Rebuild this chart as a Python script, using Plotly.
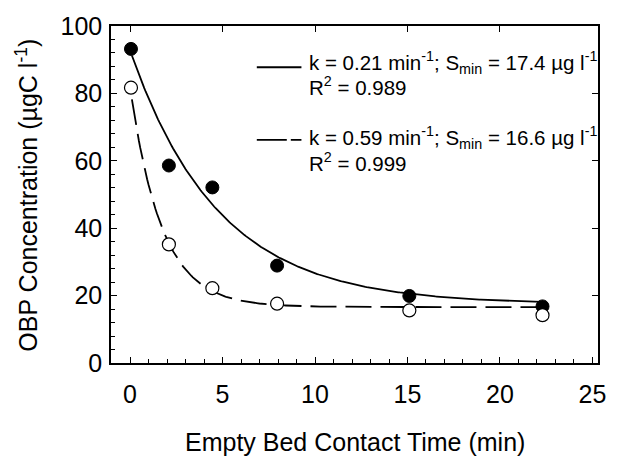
import numpy as np
import plotly.graph_objects as go

# ---- data ----
ebct_filled = [0.05, 2.1, 4.45, 7.95, 15.1, 22.3]
obp_filled = [93.2, 58.6, 52.1, 28.9, 19.9, 16.8]
ebct_open = [0.05, 2.1, 4.45, 7.95, 15.1, 22.3]
obp_open = [81.7, 35.2, 22.2, 17.6, 15.6, 14.2]

# fitted first-order decay parameters (from legend)
k_solid, smin_solid, s0_solid = 0.21, 17.4, 92.8
k_dash, smin_dash, s0_dash = 0.59, 16.6, 82.0
r2_solid, r2_dash = 0.989, 0.999
t_end_solid, t_end_dash = 22.3, 22.5

x_ticks = [0, 5, 10, 15, 20, 25]
y_ticks = [0, 20, 40, 60, 80, 100]

FONT = "Liberation Sans, Arial, sans-serif"

# plot-area geometry in pixels (for placing legend-like annotations)
L, R, T, B = 111, 602, 20, 363
PW, PH = R - L, B - T


def px(x):
    return (x - L) / PW


def py(y):
    return (B - y) / PH


t1 = np.linspace(0.1, t_end_solid, 300)
c1 = smin_solid + (s0_solid - smin_solid) * np.exp(-k_solid * t1)
t2 = np.linspace(0.1, t_end_dash, 300)
c2 = smin_dash + (s0_dash - smin_dash) * np.exp(-k_dash * t2)

fig = go.Figure()
fig.add_trace(go.Scatter(x=t1, y=c1, mode="lines",
                         line=dict(color="black", width=1.8), showlegend=False))
fig.add_trace(go.Scatter(x=t2, y=c2, mode="lines",
                         line=dict(color="black", width=1.8, dash="26px,9px"),
                         showlegend=False))
fig.add_trace(go.Scatter(
    x=ebct_filled, y=obp_filled, mode="markers",
    marker=dict(color="black", size=13, line=dict(color="black", width=1)),
    showlegend=False))
fig.add_trace(go.Scatter(
    x=ebct_open, y=obp_open, mode="markers",
    marker=dict(color="white", size=13, line=dict(color="black", width=1.2)),
    showlegend=False))
# invisible trace to carry top/right tick axes
fig.add_trace(go.Scatter(x=[None], y=[None], xaxis="x2", yaxis="y2", showlegend=False))

axis_common = dict(showgrid=False, zeroline=False, linecolor="black", linewidth=1.5,
                   ticks="inside", tickcolor="black", tickwidth=1.2)

fig.update_layout(
    width=618, height=457,
    margin=dict(l=L, r=618 - R, t=T, b=457 - B),
    plot_bgcolor="white", paper_bgcolor="white",
    font=dict(family=FONT, color="black", size=24),
    showlegend=False,
    xaxis=dict(range=[-1.03, 25.3], tickvals=x_ticks, ticklen=6, mirror=True,
               showline=True, tickfont=dict(size=25), ticklabelstandoff=8,
               minor=dict(dtick=1, tick0=0, ticks="inside", ticklen=4,
                          tickcolor="black", tickwidth=1),
               **axis_common),
    yaxis=dict(range=[0, 100], tickvals=y_ticks, ticklen=6, mirror=True,
               showline=True, tickfont=dict(size=25), ticklabelstandoff=2,
               minor=dict(dtick=4, tick0=0, ticks="inside", ticklen=4,
                          tickcolor="black", tickwidth=1),
               **axis_common),
    xaxis2=dict(range=[-1.03, 25.3], overlaying="x", side="top", tickvals=x_ticks[:-1],
                ticklen=6, showticklabels=False, showline=False, showgrid=False,
                zeroline=False, ticks="inside", tickcolor="black", tickwidth=1.2),
    yaxis2=dict(range=[0, 100], overlaying="y", side="right", tickvals=y_ticks[1:-1],
                ticklen=6, showticklabels=False, showline=False, showgrid=False,
                zeroline=False, ticks="inside", tickcolor="black", tickwidth=1.2),
)

# legend keys
fig.add_shape(type="line", xref="paper", yref="paper",
              x0=px(258), x1=px(303), y0=py(62), y1=py(62),
              line=dict(color="black", width=1.8))
fig.add_shape(type="line", xref="paper", yref="paper",
              x0=px(258), x1=px(303), y0=py(136), y1=py(136),
              line=dict(color="black", width=1.8, dash="30px,4px"))

LEG_SIZE = 20.5
legend_rows = [
    (f"k = {k_solid} min<sup>-1</sup>; S<sub>min</sub> = {smin_solid} µg l<sup>-1</sup>", 57),
    (f"R<sup>2</sup> = {r2_solid}", 81),
    (f"k = {k_dash} min<sup>-1</sup>; S<sub>min</sub> = {smin_dash} µg l<sup>-1</sup>", 133),
    (f"R<sup>2</sup> = {r2_dash}", 158),
]
for txt, yy in legend_rows:
    fig.add_annotation(text=txt, xref="paper", yref="paper",
                       x=px(309), y=py(yy), xanchor="left", yanchor="middle",
                       showarrow=False, font=dict(size=LEG_SIZE, family=FONT))

fig.add_annotation(text="Empty Bed Contact Time (min)", xref="paper", yref="paper",
                   x=0.5, y=py(443), xanchor="center", yanchor="middle",
                   showarrow=False, font=dict(size=25, family=FONT))
fig.add_annotation(text="OBP Concentration (µgC l<sup>-1</sup>)", xref="paper", yref="paper",
                   x=px(26), y=py(192), xanchor="center", yanchor="middle",
                   textangle=-90, showarrow=False, font=dict(size=25, family=FONT))

fig.write_html("out.html")
